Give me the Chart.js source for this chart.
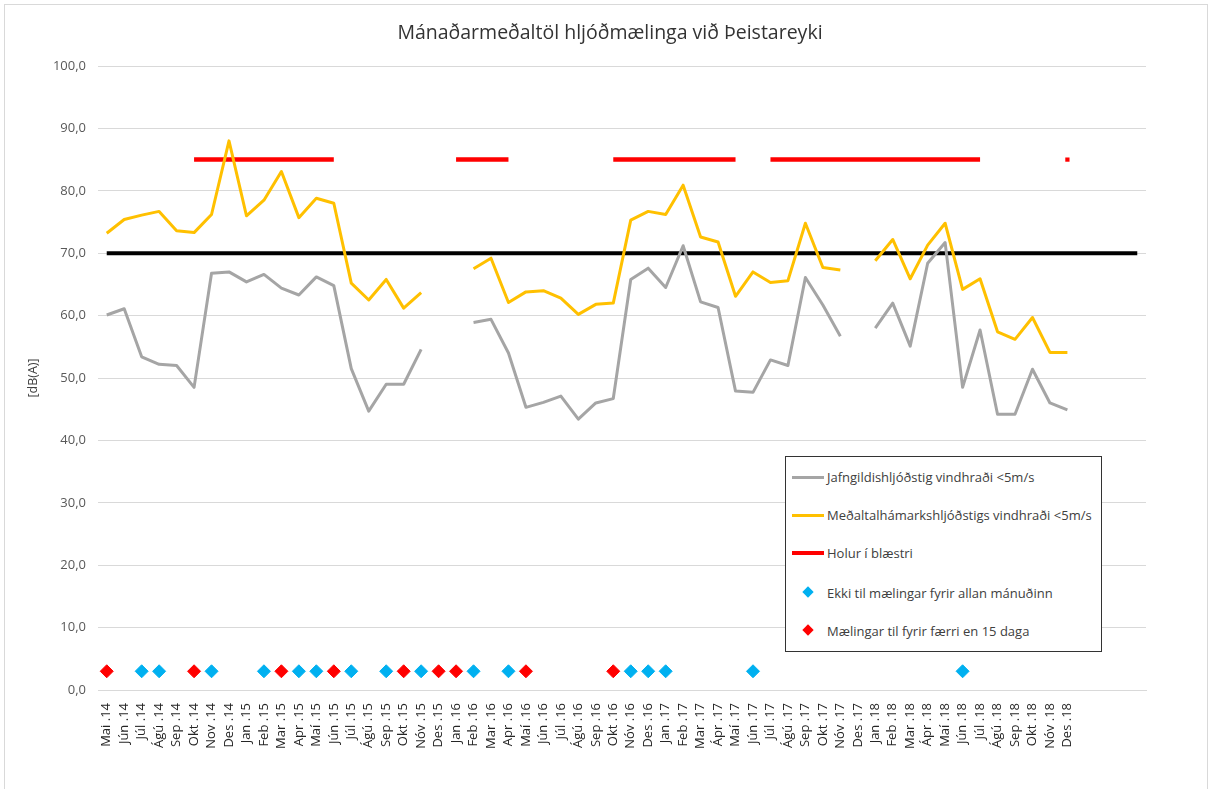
<!DOCTYPE html>
<html>
<head>
<meta charset="utf-8">
<script src="https://cdn.jsdelivr.net/npm/chart.js@4"></script>
<style>
  html, body { margin: 0; padding: 0; background: #fff; }
  #wrap { position: relative; width: 1212px; height: 789px; overflow: hidden; font-family: 'Open Sans', Lato, sans-serif; }
  #frame { position: absolute; left: 4px; top: 4px; width: 1202px; height: 820px; border: 1px solid #d9d9d9; }
  #title { position: absolute; left: 0; width: 1220px; top: 18px; text-align: center; font-size: 19.5px; color: #333; }
  #legend { position: absolute; left: 785px; top: 456px; width: 317px; height: 196px; background: #fff;
            border: 1.5px solid #333; box-sizing: border-box; font-size: 13px; color: #404040; }
  .item { position: absolute; left: 0; height: 20px; line-height: 20px; white-space: nowrap; }
  .swatch { position: absolute; left: 6px; top: 9px; width: 32px; height: 3px; }
  .dia { position: absolute; left: 18px; top: 5px; width: 8px; height: 8px; transform: rotate(45deg); }
  .txt { position: absolute; left: 41px; top: 0; }
  canvas { position: absolute; left: 0; top: 0; }
</style>
</head>
<body>
<div id="wrap">
  <div id="frame"></div>
  <canvas id="c" width="1212" height="789"></canvas>
  <div id="title">Mánaðarmeðaltöl hljóðmælinga við Þeistareyki</div>
  <div id="legend">
    <div class="item" style="top:10px"><span class="swatch" style="background:#a5a5a5"></span><span class="txt">Jafngildishljóðstig vindhraði &lt;5m/s</span></div>
    <div class="item" style="top:48px"><span class="swatch" style="background:#ffc000"></span><span class="txt">Meðaltalhámarkshljóðstigs vindhraði &lt;5m/s</span></div>
    <div class="item" style="top:86px"><span class="swatch" style="background:#ff0000;height:4px;top:8px"></span><span class="txt">Holur í blæstri</span></div>
    <div class="item" style="top:126px"><span class="dia" style="background:#00b0f0"></span><span class="txt">Ekki til mælingar fyrir allan mánuðinn</span></div>
    <div class="item" style="top:164px"><span class="dia" style="background:#ff0000"></span><span class="txt">Mælingar til fyrir færri en 15 daga</span></div>
  </div>
</div>
<script>
  // Months shown on the x axis; the last four slots are empty space in the original
  const months = [
    'Mai .14', 'Jún .14', 'Júl .14', 'Ágú .14', 'Sep .14', 'Okt .14', 'Nov .14', 'Des .14',
    'Jan .15', 'Feb .15', 'Mar .15', 'Apr .15', 'Maí .15', 'Jún .15', 'Júl .15', 'Ágú .15',
    'Sep .15', 'Okt .15', 'Nóv .15', 'Des .15', 'Jan .16', 'Feb .16', 'Mar .16', 'Apr .16',
    'Maí .16', 'Jún .16', 'Júl .16', 'Ágú .16', 'Sep .16', 'Okt .16', 'Nóv .16', 'Des .16',
    'Jan .17', 'Feb .17', 'Mar .17', 'Ápr .17', 'Maí .17', 'Jún .17', 'Júl .17', 'Ágú .17',
    'Sep .17', 'Okt .17', 'Nóv .17', 'Des .17', 'Jan .18', 'Feb .18', 'Mar .18', 'Ápr .18',
    'Maí .18', 'Jún .18', 'Júl .18', 'Ágú .18', 'Sep .18', 'Okt .18', 'Nóv .18', 'Des .18'
  ];
  const blankSlots = ['_1', '_2', '_3', '_4'];
  const categories = months.concat(blankSlots);

  // Jafngildishljóðstig vindhraði <5m/s
  const jafngildi = [
    60.1, 61.1, 53.4, 52.2, 52.0, 48.5, 66.8, 67.0, 65.4, 66.6, 64.4, 63.3, 66.2, 64.8, 51.5, 44.7,
    49.0, 49.0, 54.6, null, null, 58.9, 59.4, 54.0, 45.3, 46.1, 47.1, 43.4, 46.0, 46.7, 65.8, 67.6,
    64.5, 71.2, 62.2, 61.3, 47.9, 47.7, 52.9, 52.0, 66.1, 61.7, 56.7, null, 58.0, 62.0, 55.1, 68.4,
    71.7, 48.5, 57.7, 44.2, 44.2, 51.4, 46.0, 44.9
  ];

  // Meðaltalhámarkshljóðstigs vindhraði <5m/s
  const hamark = [
    73.2, 75.4, 76.1, 76.7, 73.6, 73.3, 76.2, 88.0, 76.0, 78.5, 83.1, 75.7, 78.8, 78.0, 65.2, 62.5,
    65.8, 61.2, 63.7, null, null, 67.5, 69.2, 62.1, 63.8, 64.0, 62.8, 60.2, 61.8, 62.0, 75.3, 76.7,
    76.2, 80.9, 72.6, 71.8, 63.1, 67.0, 65.3, 65.6, 74.8, 67.7, 67.3, null, 68.8, 72.2, 65.9, 71.3,
    74.8, 64.2, 65.9, 57.4, 56.2, 59.7, 54.1, 54.1
  ];

  // Holur í blæstri (drawn at 85 while wells were blowing)
  const holur = [
    null, null, null, null, null, 85, 85, 85, 85, 85, 85, 85, 85, 85, null, null,
    null, null, null, null, 85, 85, 85, 85, null, null, null, null, null, 85, 85, 85,
    85, 85, 85, 85, 85, null, 85, 85, 85, 85, 85, 85, 85, 85, 85, 85,
    85, 85, 85, null, null, null, null, 85
  ];

  // Reference limit 70 dB(A) across the whole axis
  const limitValue = 70;
  const limitRange = ['Mai .14', '_4'];

  // Marker rows near the bottom
  const markerLevel = 3;
  const ekkiAllan = ['Júl .14', 'Ágú .14', 'Nov .14', 'Feb .15', 'Apr .15', 'Maí .15', 'Júl .15',
    'Sep .15', 'Nóv .15', 'Feb .16', 'Apr .16', 'Nóv .16', 'Des .16', 'Jan .17', 'Jún .17', 'Jún .18'];
  const faerriDagar = ['Mai .14', 'Okt .14', 'Mar .15', 'Jún .15', 'Okt .15', 'Des .15', 'Jan .16',
    'Maí .16', 'Okt .16'];

  const yTicks = { min: 0, max: 100, step: 10 };

  const FONT = '"Open Sans", Lato, sans-serif';

  function isolated(ctx) {
    const d = ctx.dataset.data;
    const i = ctx.dataIndex;
    if (d[i] == null) return false;
    return d[i - 1] == null && d[i + 1] == null;
  }

  new Chart(document.getElementById('c'), {
    type: 'line',
    data: {
      labels: categories,
      datasets: [
        {
          label: 'Ekki til mælingar fyrir allan mánuðinn',
          data: ekkiAllan.map(m => ({ x: m, y: markerLevel })),
          showLine: false,
          pointStyle: 'rectRot',
          pointRadius: 6.5,
          pointBackgroundColor: '#00b0f0',
          pointBorderColor: '#00b0f0',
          pointBorderWidth: 1,
          order: 0,
        },
        {
          label: 'Mælingar til fyrir færri en 15 daga',
          data: faerriDagar.map(m => ({ x: m, y: markerLevel })),
          showLine: false,
          pointStyle: 'rectRot',
          pointRadius: 6.5,
          pointBackgroundColor: '#ff0000',
          pointBorderColor: '#ff0000',
          pointBorderWidth: 1,
          order: 0,
        },
        {
          label: 'Meðaltalhámarkshljóðstigs vindhraði <5m/s',
          data: hamark,
          borderColor: '#ffc000',
          borderWidth: 3,
          pointRadius: 0,
          borderJoinStyle: 'round',
          spanGaps: false,
          order: 1,
        },
        {
          label: 'Jafngildishljóðstig vindhraði <5m/s',
          data: jafngildi,
          borderColor: '#a5a5a5',
          borderWidth: 3,
          pointRadius: 0,
          borderJoinStyle: 'round',
          spanGaps: false,
          order: 2,
        },
        {
          label: 'Viðmið',
          data: limitRange.map(m => ({ x: m, y: limitValue })),
          borderColor: '#000000',
          borderWidth: 4,
          pointRadius: 0,
          order: 3,
        },
        {
          label: 'Holur í blæstri',
          data: holur,
          borderColor: '#ff0000',
          backgroundColor: '#ff0000',
          borderWidth: 4.5,
          pointStyle: 'rect',
          pointRadius: ctx => (isolated(ctx) ? 3 : 0),
          pointBorderWidth: 0,
          spanGaps: false,
          order: 4,
        },
      ],
    },
    options: {
      responsive: false,
      animation: false,
      layout: { padding: { top: 66, right: 66, bottom: 0, left: 0 } },
      plugins: {
        legend: { display: false },
        tooltip: { enabled: false },
        title: { display: false },
      },
      scales: {
        x: {
          type: 'category',
          offset: true,
          grid: { display: false, offset: true },
          border: { display: true, color: '#d9d9d9' },
          ticks: {
            autoSkip: false,
            minRotation: 90,
            maxRotation: 90,
            padding: 5,
            color: '#262626',
            font: { family: FONT, size: 13 },
            callback: function (value, index) {
              return index < months.length ? this.getLabelForValue(value) : '';
            },
          },
          afterFit: scale => { scale.height = 99; },
        },
        y: {
          min: yTicks.min,
          max: yTicks.max,
          grid: { color: '#d9d9d9', drawTicks: false },
          border: { display: false },
          ticks: {
            stepSize: yTicks.step,
            padding: 12,
            color: '#595959',
            font: { family: FONT, size: 13 },
            callback: v => v.toFixed(1).replace('.', ','),
          },
          title: {
            display: true,
            text: '[dB(A)]',
            color: '#404040',
            font: { family: FONT, size: 12.5 },
            padding: { top: 26, bottom: 0 },
          },
          afterFit: scale => { scale.width = 98; },
        },
      },
    },
  });
</script>
</body>
</html>
